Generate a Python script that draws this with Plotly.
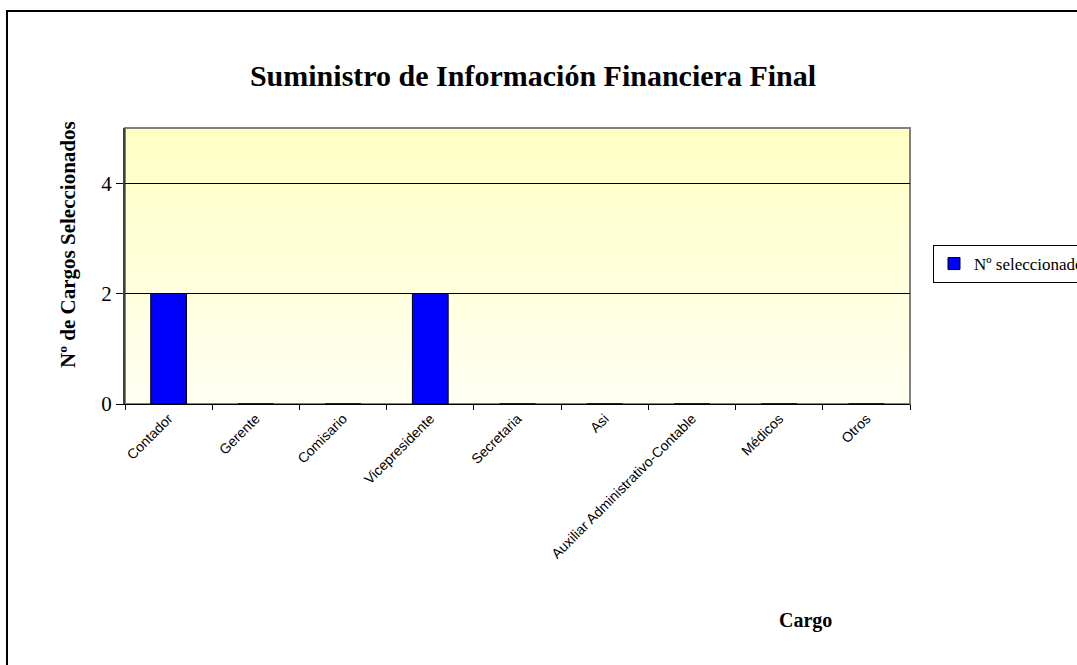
import plotly.graph_objects as go
import urllib.parse

categories = ["Contador", "Gerente", "Comisario", "Vicepresidente", "Secretaria",
              "Asi", "Auxiliar Administrativo-Contable", "Médicos", "Otros"]
values = [2, 0, 0, 2, 0, 0, 0, 0, 0]
series_name = "Nº seleccionados"
y_ticks = [0, 2, 4]

W, H = 1077, 665
L, R, T, B = 125, 167, 128, 261
PW, PH = W - L - R, H - T - B

svg = ('<svg xmlns="http://www.w3.org/2000/svg" width="100" height="100" preserveAspectRatio="none">'
       '<defs><linearGradient id="g" x1="0" y1="0" x2="0" y2="1">'
       '<stop offset="0" stop-color="#FFFFC4"/><stop offset="1" stop-color="#FFFFF2"/>'
       '</linearGradient></defs><rect width="100" height="100" fill="url(#g)"/></svg>')
bg_uri = "data:image/svg+xml;charset=utf-8," + urllib.parse.quote(svg)

fig = go.Figure()
fig.add_trace(go.Bar(
    x=categories, y=values, name=series_name,
    marker=dict(color="#0000FF", line=dict(color="black", width=1)),
    width=0.41, showlegend=True,
))

serif = "Liberation Serif, Times New Roman, serif"
fig.update_layout(
    width=W, height=H,
    margin=dict(l=L, r=R, t=T, b=B, autoexpand=False),
    paper_bgcolor="white",
    plot_bgcolor="rgba(0,0,0,0)",
    title=dict(text="<b>Suministro de Información Financiera Final</b>",
               x=(533 - L) / PW, xref="paper",
               y=1 - 75 / H, yref="container", xanchor="center", yanchor="middle",
               font=dict(family=serif, size=30, color="black")),
    showlegend=True,
    legend=dict(xref="container", yref="container",
                x=933 / W, xanchor="left",
                y=1 - 283 / H, yanchor="bottom",
                bgcolor="white", bordercolor="black", borderwidth=1,
                font=dict(family=serif, size=17, color="black"),
                itemwidth=30, tracegroupgap=0),
    images=[dict(source=bg_uri, xref="paper", yref="paper", x=0, y=1,
                 sizex=1, sizey=1, sizing="stretch", layer="below")],
    xaxis=dict(type="category", tickson="boundaries", ticks="outside", ticklen=5,
               tickcolor="black", tickangle=-45, showgrid=False,
               showline=True, linecolor="black", linewidth=1,
               tickfont=dict(family="Liberation Sans, Arial, sans-serif", size=14, color="black")),
    yaxis=dict(range=[0, 5], tickvals=y_ticks, ticks="outside", ticklen=7,
               tickcolor="black", showgrid=True, gridcolor="black", gridwidth=1,
               zeroline=False, showline=True, linecolor="#404040", linewidth=2,
               tickfont=dict(family=serif, size=21, color="black")),
    bargap=0.59,
    annotations=[
        dict(text="<b>Nº de Cargos Seleccionados</b>", textangle=-90,
             xref="paper", yref="paper", x=(68 - L) / PW,
             y=(H - B - 245) / PH, xanchor="center", yanchor="middle",
             showarrow=False, font=dict(family=serif, size=21, color="black")),
        dict(text="<b>Cargo</b>", xref="paper", yref="paper",
             x=(805 - L) / PW, y=(H - B - 620) / PH,
             xanchor="center", yanchor="middle", showarrow=False,
             font=dict(family=serif, size=20, color="black")),
    ],
    shapes=[
        dict(type="rect", xref="paper", yref="paper", x0=0, x1=1, y0=0, y1=1,
             line=dict(color="#808080", width=2), layer="below"),
        dict(type="rect", xref="paper", yref="paper",
             x0=(7 - L) / PW, x1=(W + 20 - L) / PW,
             y0=(H - B - (H + 20)) / PH, y1=(H - B - 11) / PH,
             line=dict(color="black", width=2)),
    ],
)

fig.write_html("out.html", config={"displayModeBar": False},
               post_script="document.body.style.margin='0';document.body.style.overflow='hidden';")
